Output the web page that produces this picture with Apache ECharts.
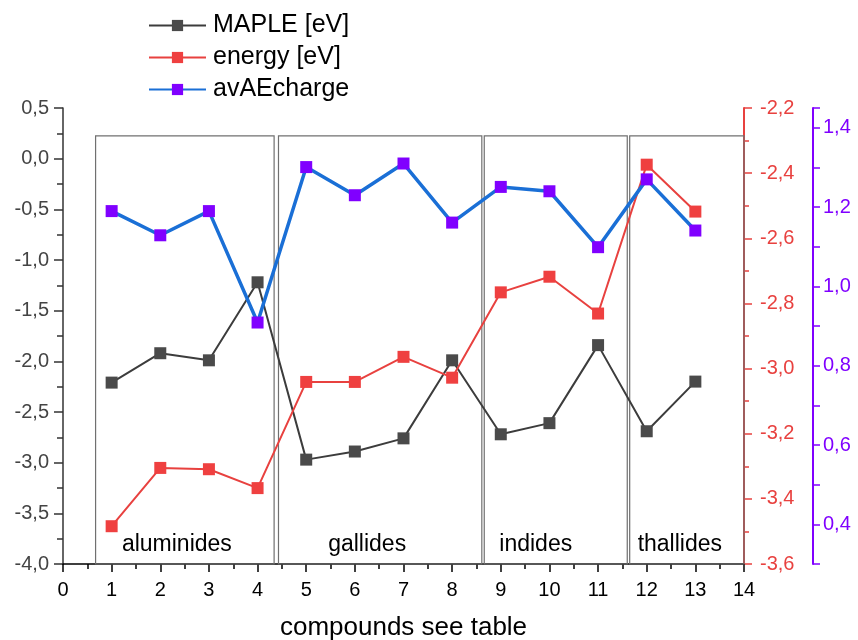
<!DOCTYPE html>
<html>
<head>
<meta charset="utf-8">
<script src="https://cdn.jsdelivr.net/npm/echarts@6/dist/echarts.min.js"></script>
<style>
  html, body { margin: 0; padding: 0; background: #fff; }
  #main { width: 858px; height: 640px; }
</style>
</head>
<body>
<div id="main"></div>
<script>
// data
var compounds = [1, 2, 3, 4, 5, 6, 7, 8, 9, 10, 11, 12, 13];
var mapleEV = [-2.21, -1.92, -1.99, -1.22, -2.97, -2.89, -2.76, -1.99, -2.72, -2.61, -1.84, -2.69, -2.20];
var energyEV = [-3.484, -3.305, -3.309, -3.367, -3.041, -3.041, -2.964, -3.028, -2.766, -2.718, -2.831, -2.374, -2.518];
var avAEcharge = [1.190, 1.129, 1.190, 0.909, 1.301, 1.230, 1.310, 1.161, 1.251, 1.240, 1.099, 1.270, 1.141];

// compound groups (boxes)
var groupNames = ['aluminides', 'gallides', 'indides', 'thallides'];
var groupFrom = [0.67, 4.43, 8.66, 11.65];
var groupTo = [4.34, 8.61, 11.60, 14];
var groupTop = 0.224;
var groupLabelShift = [-8, -13, -20, -7];

var myChart = echarts.init(document.getElementById('main'));

function comma(v) {
    return v.toFixed(1).replace('.', ',');
}
function pairs(ys) {
    return compounds.map(function (x, i) { return [x, ys[i]]; });
}

var boxes = groupNames.map(function (name, i) {
    return [
        {
            name: name,
            xAxis: groupFrom[i],
            yAxis: groupTop,
            label: { offset: [groupLabelShift[i], 0] }
        },
        { xAxis: groupTo[i], yAxis: -4 }
    ];
});

var black = '#000';
var red = '#e8413f';
var purple = '#8000ff';

option = {
    animation: false,
    textStyle: { fontFamily: 'Liberation Sans, Arial, sans-serif' },
    grid: { left: 63, right: 114, top: 108, bottom: 76, outerBoundsMode: 'none', containLabel: false },
    legend: {
        orient: 'vertical',
        left: 143,
        top: 8,
        itemWidth: 57,
        itemHeight: 14,
        itemGap: 7,
        textStyle: { fontSize: 25, color: '#000', padding: [0, 0, 0, 2] },
        data: ['MAPLE [eV]', 'energy [eV]', 'avAEcharge']
    },
    xAxis: {
        type: 'value',
        min: 0,
        max: 14,
        interval: 1,
        name: 'compounds see table',
        nameLocation: 'middle',
        nameGap: 51,
        nameTextStyle: { fontSize: 26, color: black },
        axisLine: { show: true, onZero: false, lineStyle: { color: black, width: 1.5 } },
        axisTick: { show: true, length: 8, lineStyle: { color: black, width: 1.5 } },
        minorTick: { show: true, splitNumber: 2, length: 5, lineStyle: { color: black, width: 1.5 } },
        axisLabel: { fontSize: 20, color: black, margin: 16 },
        splitLine: { show: false }
    },
    yAxis: [
        {
            type: 'value',
            position: 'left',
            min: -4,
            max: 0.5,
            interval: 0.5,
            axisLine: { show: true, onZero: false, lineStyle: { color: '#333', width: 1.5 } },
            axisTick: { show: true, length: 9, lineStyle: { color: '#333', width: 1.5 } },
            minorTick: { show: true, splitNumber: 2, length: 6, lineStyle: { color: '#333', width: 1.5 } },
            axisLabel: { fontSize: 20, color: '#444', margin: 14, formatter: comma },
            splitLine: { show: false }
        },
        {
            type: 'value',
            position: 'right',
            min: -3.6,
            max: -2.2,
            interval: 0.2,
            axisLine: { show: true, onZero: false, lineStyle: { color: red, width: 2 } },
            axisTick: { show: true, length: 8, lineStyle: { color: red, width: 1.5 } },
            minorTick: { show: true, splitNumber: 2, length: 5, lineStyle: { color: red, width: 1.5 } },
            axisLabel: { fontSize: 20, color: red, margin: 16, formatter: comma },
            splitLine: { show: false }
        },
        {
            type: 'value',
            position: 'right',
            offset: 69,
            min: 0.3,
            max: 1.45,
            interval: 0.1,
            axisLine: { show: true, onZero: false, lineStyle: { color: purple, width: 2 } },
            axisTick: { show: true, length: 7, lineStyle: { color: purple, width: 1.5 } },
            axisLabel: {
                fontSize: 20,
                color: purple,
                margin: 10,
                formatter: function (v) {
                    var k = Math.round(v * 100);
                    return k % 20 === 0 ? comma(k / 100) : '';
                }
            },
            splitLine: { show: false }
        }
    ],
    series: [
        {
            name: 'MAPLE [eV]',
            type: 'line',
            yAxisIndex: 0,
            data: pairs(mapleEV),
            symbol: 'rect',
            symbolSize: 12,
            itemStyle: { color: '#4a4a4a' },
            lineStyle: { color: '#3c3c3c', width: 2 },
            markArea: {
                silent: true,
                itemStyle: { color: 'rgba(0,0,0,0)', borderColor: '#707070', borderWidth: 1.2 },
                label: {
                    show: true,
                    position: 'insideBottom',
                    distance: 8,
                    fontSize: 23,
                    color: black
                },
                data: boxes
            }
        },
        {
            name: 'energy [eV]',
            type: 'line',
            yAxisIndex: 1,
            data: pairs(energyEV),
            symbol: 'rect',
            symbolSize: 12,
            itemStyle: { color: '#ef4040' },
            lineStyle: { color: red, width: 2 }
        },
        {
            name: 'avAEcharge',
            type: 'line',
            yAxisIndex: 2,
            data: pairs(avAEcharge),
            symbol: 'rect',
            symbolSize: 12,
            itemStyle: { color: purple },
            lineStyle: { color: '#1a6fd6', width: 3.5 }
        }
    ]
};

myChart.setOption(option);
</script>
</body>
</html>
